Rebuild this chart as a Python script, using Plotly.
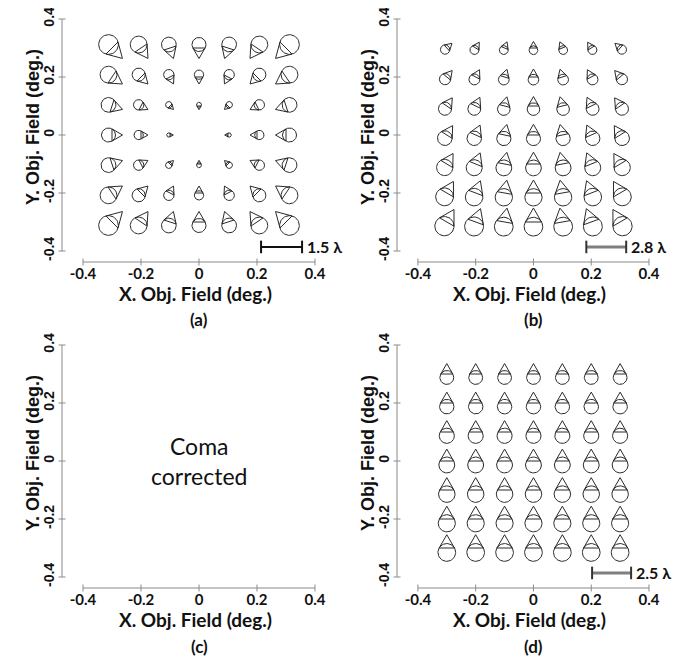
import numpy as np
import plotly.graph_objects as go

# ---------------- data ----------------
FIELD_X = [-0.3, -0.2, -0.1, 0.0, 0.1, 0.2, 0.3]
FIELD_Y = [0.3, 0.2, 0.1, 0.0, -0.1, -0.2, -0.3]   # rows, top to bottom
TICK_VALS = [-0.4, -0.2, 0, 0.2, 0.4]
TICK_TEXT = ["-0.4", "-0.2", "0", "0.2", "0.4"]

# (a) coma length (lambda) and direction of the coma tip (deg, 0 = +x, 90 = +y)
COMA_A_MAG = [
    [1.08, 0.92, 0.81, 0.77, 0.81, 0.92, 1.08],
    [0.92, 0.72, 0.57, 0.51, 0.57, 0.72, 0.92],
    [0.81, 0.57, 0.36, 0.27, 0.36, 0.57, 0.81],
    [0.77, 0.51, 0.24, 0.00, 0.24, 0.51, 0.77],
    [0.81, 0.57, 0.36, 0.27, 0.36, 0.57, 0.81],
    [0.92, 0.72, 0.57, 0.51, 0.57, 0.72, 0.92],
    [1.08, 0.92, 0.81, 0.77, 0.81, 0.92, 1.08],
]
COMA_A_DIR = [
    [-45, -56, -72, -90, -108, -124, -135],
    [-34, -45, -63, -90, -117, -135, -146],
    [-18, -27, -45, -90, -135, -153, -162],
    [0, 0, 0, 0, 180, 180, 180],
    [18, 27, 45, 90, 135, 153, 162],
    [34, 45, 63, 90, 117, 135, 146],
    [45, 56, 72, 90, 108, 124, 135],
]

# (b)
COMA_B_MAG = [
    [0.98, 0.95, 0.93, 0.92, 0.93, 0.95, 0.98],
    [1.18, 1.15, 1.13, 1.12, 1.13, 1.15, 1.18],
    [1.38, 1.35, 1.33, 1.32, 1.33, 1.35, 1.38],
    [1.55, 1.52, 1.50, 1.49, 1.50, 1.52, 1.55],
    [1.71, 1.68, 1.66, 1.65, 1.66, 1.68, 1.71],
    [1.87, 1.84, 1.82, 1.81, 1.82, 1.84, 1.87],
    [2.02, 1.99, 1.97, 1.96, 1.97, 1.99, 2.02],
]
COMA_B_DIR = [
    [42, 58, 68, 90, 112, 122, 138],
    [50, 62, 73, 90, 107, 118, 130],
    [56, 64, 76, 90, 104, 116, 124],
    [58, 66, 78, 90, 102, 114, 122],
    [59, 68, 79, 90, 101, 112, 121],
    [60, 69, 80, 90, 100, 111, 120],
    [60, 70, 80, 90, 100, 110, 120],
]

# (d)
COMA_D_MAG = [
    [1.33] * 7,
    [1.39] * 7,
    [1.45] * 7,
    [1.52] * 7,
    [1.58] * 7,
    [1.64] * 7,
    [1.70] * 7,
]
COMA_D_DIR = [[90] * 7 for _ in range(7)]

SCALE_LAMBDA = {"a": 1.5, "b": 2.8, "d": 2.5}
PANEL_LABELS = ["(a)", "(b)", "(c)", "(d)"]
X_TITLE = "X. Obj. Field (deg.)"
Y_TITLE = "Y. Obj. Field (deg.)"
CORRECTED_TEXT = "Coma<br>corrected"

# ---------------- layout constants ----------------
OFF = 8                      # page body margin
W, H = 681 - OFF, 656 - OFF  # figure size
PXPD = 290.0                 # pixels per degree on both axes
GAP_X, GAP_Y = 21, 11        # offset of the detached axis lines (px)
PAD = 1                      # extra room beyond the axis lines (px)
BAR_LEN_DEG = {"a": 0.1414, "b": 0.138, "d": 0.135}   # on-screen length of the scale bars
BAR_START = {"a": 0.214, "b": 0.183, "d": 0.203}
BAR_Y = -0.386
LINE_COLOR = "#8a8a8a"


def px(x):
    return (x - OFF) / W


def py(y):
    return 1 - (y - OFF) / H


def glyph_path(mag, ang, deg_per_lambda):
    xs, ys = [], []
    t = np.linspace(0, 2 * np.pi, 49)
    for i, fy in enumerate(FIELD_Y):
        for j, fx in enumerate(FIELD_X):
            m = mag[i][j]
            if m <= 0:
                continue
            r = m * deg_per_lambda / 3.0
            th = np.radians(ang[i][j])
            u = np.array([np.cos(th), np.sin(th)])
            n = np.array([-np.sin(th), np.cos(th)])
            c = np.array([fx, fy]) - 0.5 * r * u
            xs += list(c[0] + r * np.cos(t)) + [None]
            ys += list(c[1] + r * np.sin(t)) + [None]
            a = c + 2 * r * u
            t1 = c + r * (0.5 * u + 0.866 * n)
            t2 = c + r * (0.5 * u - 0.866 * n)
            for p in (a, t1, t2, a):
                xs.append(p[0])
                ys.append(p[1])
            xs.append(None)
            ys.append(None)
    return xs, ys


fig = go.Figure()

panels = {
    "a": dict(x="x", y="y", mag=COMA_A_MAG, dir=COMA_A_DIR, bar="#111111", cap="#111111", bw=2),
    "b": dict(x="x2", y="y2", mag=COMA_B_MAG, dir=COMA_B_DIR, bar="#7f7f7f", cap="#333333", bw=3),
    "d": dict(x="x4", y="y4", mag=COMA_D_MAG, dir=COMA_D_DIR, bar="#7f7f7f", cap="#333333", bw=3),
}

# axes geometry (screen pixels): x of data -0.4 and 0.4 ; y of data 0.4 and -0.4
cols = [(83, 315), (418, 649)]
rows = [(19, 251), (345, 577)]
XLINE = -0.4 - GAP_X / PXPD          # data x of the y-axis line
YLINE = -0.4 - GAP_Y / PXPD          # data y of the x-axis line
XMIN = XLINE - PAD / PXPD
YMIN = YLINE - PAD / PXPD

axis_common = dict(tickvals=TICK_VALS, ticktext=TICK_TEXT, showgrid=False, zeroline=False,
                   showline=False, ticks="", automargin=False, fixedrange=True,
                   ticklabeloverflow="allow")

idx = 1
for ri, (yt, yb) in enumerate(rows):
    for ci, (xl, xr) in enumerate(cols):
        sfx = "" if idx == 1 else str(idx)
        xa_id = "x" + sfx
        ya_id = "y" + sfx
        xline_y = yb + GAP_Y
        yline_x = xl - GAP_X
        fig.update_layout(**{
            "xaxis" + sfx: dict(axis_common, anchor=ya_id,
                                domain=[px(yline_x - PAD), px(xr + 2)],
                                range=[XMIN, 0.4 + 2 / PXPD],
                                ticklabelstandoff=0,
                                tickfont=dict(family="Lato", size=15, color="#111", weight="bold")),
            "yaxis" + sfx: dict(axis_common, anchor=xa_id,
                                domain=[py(xline_y + PAD), py(yt - 2)],
                                range=[YMIN, 0.4 + 2 / PXPD],
                                tickangle=-90, ticklabelstandoff=3,
                                tickfont=dict(family="Liberation Sans", size=14, color="#111",
                                              weight="bold")),
        })
        # detached axis lines with small tick marks
        fig.add_trace(go.Scatter(x=[TICK_VALS[0], TICK_VALS[-1]], y=[YLINE, YLINE], mode="lines",
                                 xaxis=xa_id, yaxis=ya_id, hoverinfo="skip",
                                 line=dict(color=LINE_COLOR, width=1), showlegend=False))
        fig.add_trace(go.Scatter(x=TICK_VALS, y=[YLINE] * len(TICK_VALS), mode="markers",
                                 xaxis=xa_id, yaxis=ya_id, hoverinfo="skip", cliponaxis=False,
                                 marker=dict(symbol="line-ns", size=5, color=LINE_COLOR,
                                             line=dict(color=LINE_COLOR, width=1)),
                                 showlegend=False))
        fig.add_trace(go.Scatter(x=[XLINE, XLINE], y=[TICK_VALS[0], TICK_VALS[-1]], mode="lines",
                                 xaxis=xa_id, yaxis=ya_id, hoverinfo="skip",
                                 line=dict(color=LINE_COLOR, width=1), showlegend=False))
        fig.add_trace(go.Scatter(x=[XLINE] * len(TICK_VALS), y=TICK_VALS, mode="markers",
                                 xaxis=xa_id, yaxis=ya_id, hoverinfo="skip", cliponaxis=False,
                                 marker=dict(symbol="line-ew", size=5, color=LINE_COLOR,
                                             line=dict(color=LINE_COLOR, width=1)),
                                 showlegend=False))
        xc = (xl + xr) / 2
        fig.add_annotation(x=px(xc - 4), y=py(xline_y + 31), xref="paper", yref="paper",
                           text=X_TITLE, showarrow=False, xanchor="center", yanchor="middle",
                           font=dict(family="Lato", size=19, color="#111", weight="bold"))
        fig.add_annotation(x=px(xc), y=py(xline_y + 58), xref="paper", yref="paper",
                           text=PANEL_LABELS[idx - 1], showarrow=False, xanchor="center",
                           yanchor="middle",
                           font=dict(family="Lato", size=17, color="#111", weight="bold"))
        fig.add_annotation(x=px(yline_x - 29), y=py((yt + yb) / 2 - 8), xref="paper", yref="paper",
                           text=Y_TITLE, showarrow=False, textangle=-90, xanchor="center",
                           yanchor="middle",
                           font=dict(family="Liberation Sans", size=18, color="#111", weight="bold"))
        idx += 1

for key, p in panels.items():
    dpl = BAR_LEN_DEG[key] / SCALE_LAMBDA[key]
    gx, gy = glyph_path(p["mag"], p["dir"], dpl)
    fig.add_trace(go.Scatter(x=gx, y=gy, mode="lines", xaxis=p["x"], yaxis=p["y"],
                             line=dict(color="#2a2a2a", width=1), hoverinfo="skip",
                             showlegend=False))
    x0 = BAR_START[key]
    x1 = x0 + BAR_LEN_DEG[key]
    fig.add_trace(go.Scatter(x=[x0, x1], y=[BAR_Y, BAR_Y], mode="lines", xaxis=p["x"], yaxis=p["y"],
                             line=dict(color=p["bar"], width=p["bw"]), showlegend=False,
                             hoverinfo="skip", cliponaxis=False))
    fig.add_trace(go.Scatter(x=[x0, x1], y=[BAR_Y, BAR_Y], mode="markers", xaxis=p["x"], yaxis=p["y"],
                             marker=dict(symbol="line-ns-open", size=9, color=p["cap"],
                                         line=dict(color=p["cap"], width=2)),
                             showlegend=False, hoverinfo="skip", cliponaxis=False))
    fig.add_annotation(x=x1, y=BAR_Y, xref=p["x"], yref=p["y"], xanchor="left", yanchor="middle",
                       xshift=3, text=f"{SCALE_LAMBDA[key]} λ", showarrow=False,
                       font=dict(family="Lato", size=16, color="#111", weight="bold"))

fig.add_annotation(x=0.0, y=0.0, xref="x3", yref="y3", text=CORRECTED_TEXT, showarrow=False,
                   xanchor="center", yanchor="middle",
                   font=dict(family="Lato", size=23, color="#111"))

fig.update_layout(template="none", width=W, height=H,
                  margin=dict(l=0, r=0, t=0, b=0, autoexpand=False),
                  paper_bgcolor="white", plot_bgcolor="white", showlegend=False)

fig.write_html("out.html")
